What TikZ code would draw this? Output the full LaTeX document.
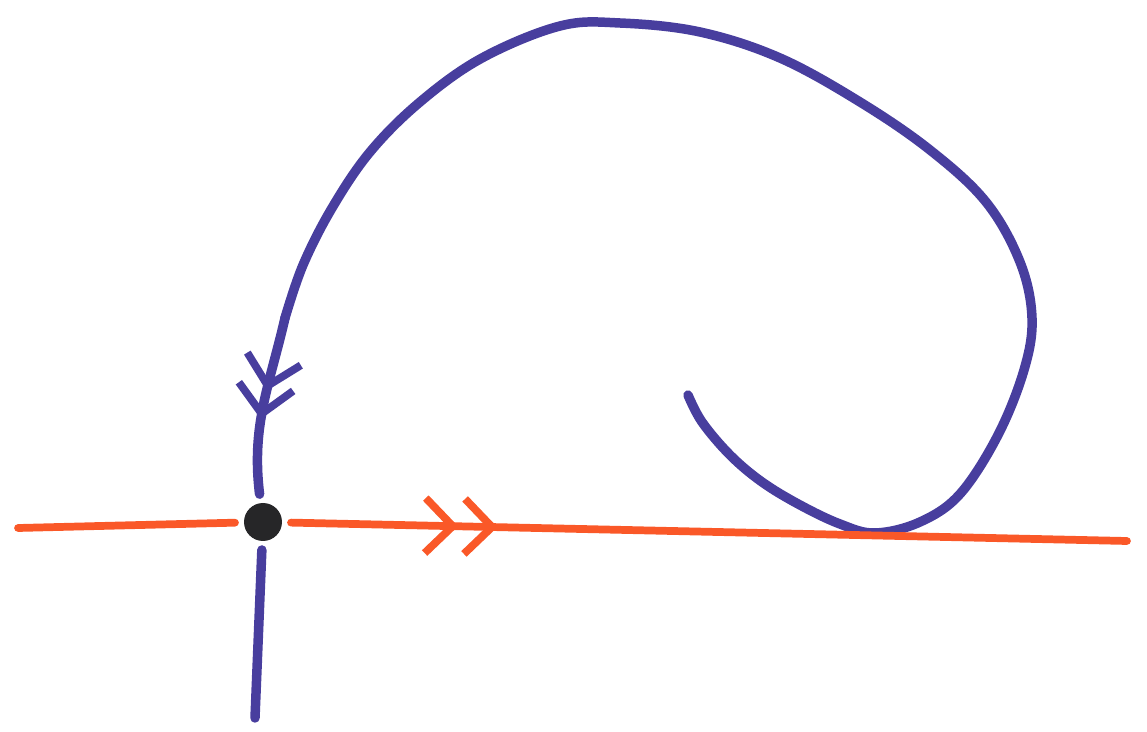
\documentclass[tikz,border=0pt]{standalone}
\usepackage{tikz}
\usetikzlibrary{arrows.meta,decorations.markings}
\definecolor{dyblue}{RGB}{72,62,158}
\definecolor{dyorange}{RGB}{250,88,40}
\definecolor{dydot}{RGB}{38,38,40}

\begin{document}
\begin{tikzpicture}[x=0.02cm,y=-0.02cm,
  orbit/.style={dyblue, line width=5.4pt, line cap=round, line join=round},
  flowline/.style={dyorange, line width=4.4pt, line cap=round},
  chevron/.tip={Straight Barb[length=0.55cm, width=1.1cm, line width=4.4pt]}]
  \useasboundingbox (0,0) rectangle (1147,732);
  % Fixed point
  \node[circle, fill=dydot, minimum size=0.76cm, inner sep=0pt, outer sep=0.18cm] (fixpt) at (263,522) {};
  \coordinate (spiral) at (688,395);
  \coordinate (bend) at (285,318);
  \coordinate (stable) at (255,718);
  \coordinate (leftend) at (18,528);
  \coordinate (rightend) at (1127,541);
  % Homoclinic-like orbit
  \draw[orbit] plot[smooth, tension=0.6] coordinates {(spiral) (702,422) (730,455) (762,482) (800,505) (840,524) (875,533) (920,522) (960,494) (998,435) (1024,370) (1032,318) (1020,262) (986,202) (930,150) (860,102) (780,58) (700,32) (620,23) (560,26) (482,58) (420,102) (370,152) (332,208) (303,265) (bend)};
  \draw[orbit, decoration={markings,
      mark=at position 0.42 with {\arrow{chevron}},
      mark=at position 0.58 with {\arrow{chevron}}}, postaction={decorate}]
    (bend) to[out=-103, in=97] (fixpt);
  \draw[orbit] (fixpt) -- (stable);
  % Unstable direction
  \draw[flowline] (leftend) -- (fixpt);
  \draw[flowline, decoration={markings,
      mark=at position 0.2 with {\arrow{chevron}},
      mark=at position 0.247 with {\arrow{chevron}}}, postaction={decorate}]
    (fixpt) -- (rightend);
\end{tikzpicture}
\end{document}
